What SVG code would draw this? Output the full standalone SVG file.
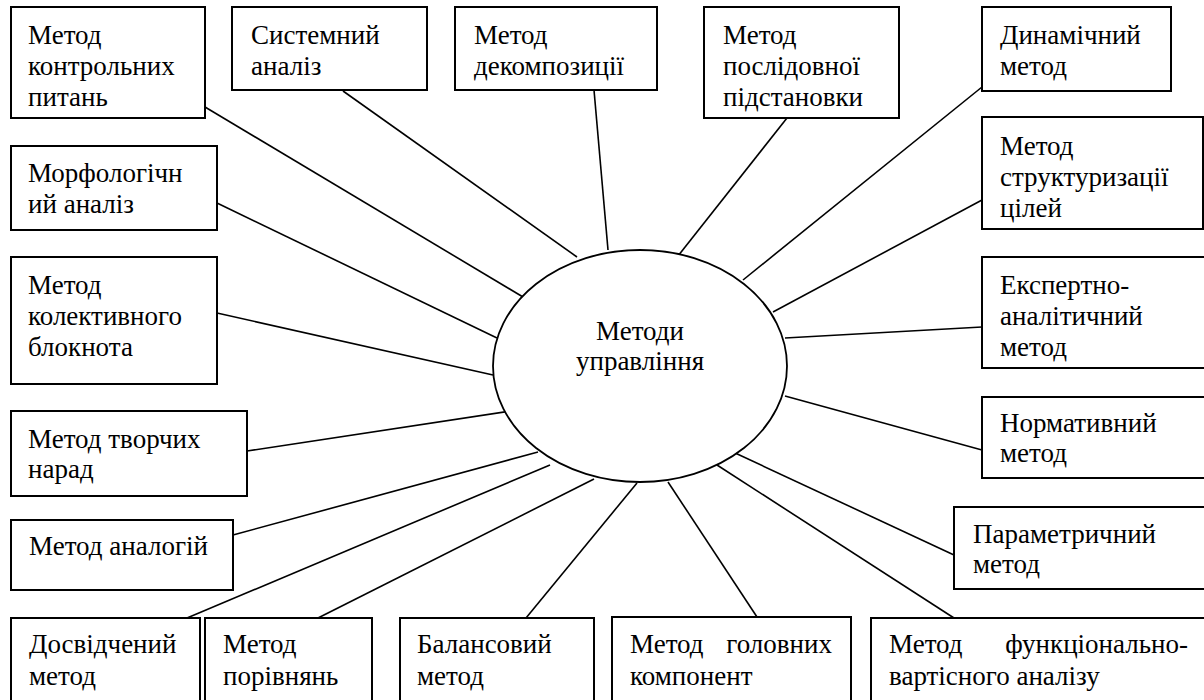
<svg xmlns="http://www.w3.org/2000/svg" width="1204" height="700" viewBox="0 0 1204 700">
<style>
.t{font-size:27px;fill:#000}
.box{fill:#fff;stroke:#000;stroke-width:2}
.ln{stroke:#000;stroke-width:1.6;fill:none}
</style>
<rect width="1204" height="700" fill="#fff"/>
<g id="connectors">
<line class="ln" x1="205" y1="107" x2="523" y2="297"/>
<line class="ln" x1="343" y1="91" x2="577" y2="257"/>
<line class="ln" x1="594" y1="90" x2="608" y2="250"/>
<line class="ln" x1="787" y1="118" x2="678" y2="256"/>
<line class="ln" x1="982" y1="87" x2="743" y2="280"/>
<line class="ln" x1="982" y1="200" x2="773" y2="312"/>
<line class="ln" x1="217" y1="203" x2="497" y2="338"/>
<line class="ln" x1="217" y1="313" x2="493" y2="375"/>
<line class="ln" x1="247" y1="451" x2="511" y2="411"/>
<line class="ln" x1="233" y1="535" x2="538" y2="452"/>
<line class="ln" x1="187" y1="618" x2="550" y2="465"/>
<line class="ln" x1="318" y1="618" x2="594" y2="479"/>
<line class="ln" x1="526" y1="618" x2="637" y2="483"/>
<line class="ln" x1="757" y1="617" x2="668" y2="482"/>
<line class="ln" x1="954" y1="618" x2="717" y2="465"/>
<line class="ln" x1="954" y1="555" x2="733" y2="452"/>
<line class="ln" x1="982" y1="450" x2="785" y2="396"/>
<line class="ln" x1="982" y1="327" x2="785" y2="338"/>
</g>
<g font-family="Liberation Serif" class="t">
<g id="center">
<ellipse cx="640" cy="366" rx="147" ry="116" fill="#fff" stroke="#000" stroke-width="1.8"/>
<text x="640" y="340" text-anchor="middle" font-family="Liberation Serif">Методи</text>
<text x="640" y="370" text-anchor="middle" font-family="Liberation Serif">управління</text>
</g>
<g id="n1"><rect class="box" x="11" y="7" width="194" height="111"/><text x="28" y="44">Метод</text><text x="28" y="75">контрольних</text><text x="28" y="106">питань</text></g>
<g id="n2"><rect class="box" x="232" y="7" width="195" height="83"/><text x="251" y="44">Системний</text><text x="251" y="75">аналіз</text></g>
<g id="n3"><rect class="box" x="455" y="7" width="202" height="83"/><text x="474" y="44">Метод</text><text x="474" y="75">декомпозиції</text></g>
<g id="n4"><rect class="box" x="704" y="7" width="195" height="111"/><text x="723" y="44">Метод</text><text x="723" y="75">послідовної</text><text x="723" y="106">підстановки</text></g>
<g id="n5"><rect class="box" x="982" y="7" width="189" height="84"/><text x="1000" y="44">Динамічний</text><text x="1000" y="75">метод</text></g>
<g id="n6"><rect class="box" x="982" y="117" width="221" height="112"/><text x="1000" y="155">Метод</text><text x="1000" y="186">структуризації</text><text x="1000" y="217">цілей</text></g>
<g id="n7"><rect class="box" x="11" y="146" width="206" height="84"/><text x="28" y="182">Морфологічн</text><text x="28" y="213">ий аналіз</text></g>
<g id="n8"><rect class="box" x="11" y="257" width="206" height="127"/><text x="28" y="294">Метод</text><text x="28" y="325">колективного</text><text x="28" y="356">блокнота</text></g>
<g id="n9"><rect class="box" x="11" y="411" width="236" height="85"/><text x="28" y="448">Метод творчих</text><text x="28" y="478">нарад</text></g>
<g id="n10"><rect class="box" x="11" y="520" width="222" height="70"/><text x="29" y="555">Метод аналогій</text></g>
<g id="n11"><rect class="box" x="11" y="618" width="189" height="100"/><text x="29" y="653">Досвідчений</text><text x="29" y="685">метод</text></g>
<g id="n12"><rect class="box" x="205" y="618" width="167" height="100"/><text x="223" y="653">Метод</text><text x="223" y="685">порівнянь</text></g>
<g id="n13"><rect class="box" x="400" y="618" width="194" height="100"/><text x="417" y="653">Балансовий</text><text x="417" y="685">метод</text></g>
<g id="n14"><rect class="box" x="612" y="617" width="239" height="101"/><text x="630" y="653">Метод</text><text x="832" y="653" text-anchor="end">головних</text><text x="630" y="685">компонент</text></g>
<g id="n15"><rect class="box" x="871" y="618" width="340" height="100"/><text x="889" y="653">Метод</text><text x="1188" y="653" text-anchor="end">функціонально-</text><text x="889" y="685">вартісного аналізу</text></g>
<g id="n16"><rect class="box" x="954" y="507" width="260" height="82"/><text x="973" y="543">Параметричний</text><text x="973" y="573">метод</text></g>
<g id="n17"><rect class="box" x="982" y="257" width="230" height="111"/><text x="1000" y="294">Експертно-</text><text x="1000" y="325">аналітичний</text><text x="1000" y="356">метод</text></g>
<g id="n18"><rect class="box" x="982" y="397" width="230" height="81"/><text x="1000" y="432">Нормативний</text><text x="1000" y="462">метод</text></g>
</g>
</svg>
